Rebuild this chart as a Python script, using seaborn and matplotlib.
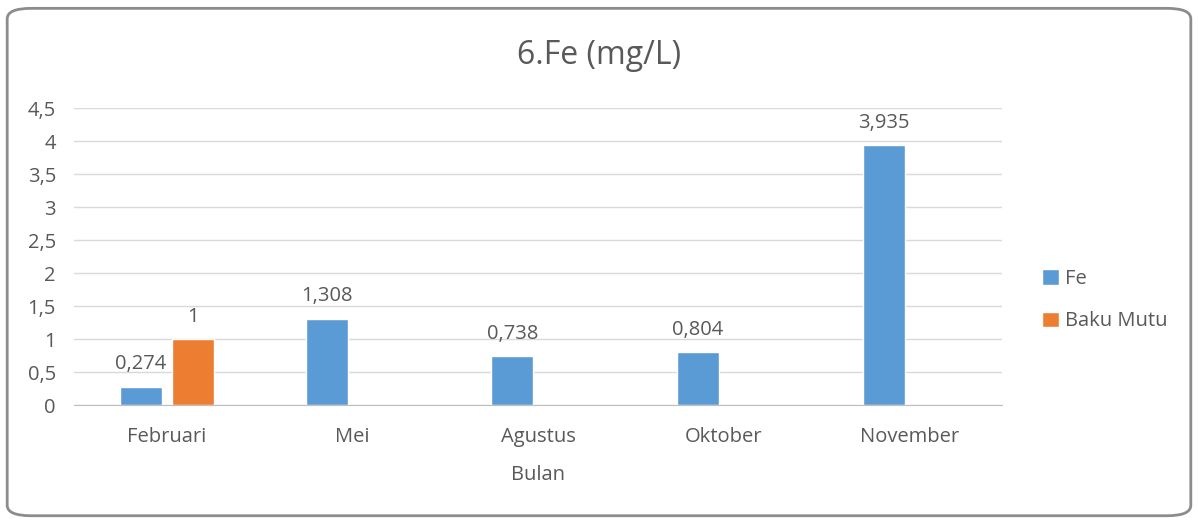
import pandas as pd
import matplotlib.pyplot as plt
import seaborn as sns
from matplotlib.patches import FancyBboxPatch
from matplotlib.ticker import FuncFormatter, FixedLocator

# Data
bulan = ['Februari', 'Mei', 'Agustus', 'Oktober', 'November']
fe = [0.274, 1.308, 0.738, 0.804, 3.935]
baku_mutu_bulan = ['Februari']
baku_mutu = [1]

df = pd.concat([
    pd.DataFrame({'Bulan': bulan, 'Nilai': fe, 'Seri': 'Fe'}),
    pd.DataFrame({'Bulan': baku_mutu_bulan, 'Nilai': baku_mutu, 'Seri': 'Baku Mutu'}),
], ignore_index=True)

sns.set_style('white')
plt.rcParams['font.family'] = ['Open Sans', 'DejaVu Sans']
teks = '#595959'
fs = 14.5

fig = plt.figure(figsize=(11.98, 5.22), dpi=100)
ax = fig.add_axes([0.0618, 0.224, 0.775, 0.569])

sns.barplot(data=df, x='Bulan', y='Nilai', hue='Seri', order=bulan,
            hue_order=['Fe', 'Baku Mutu'], palette=['#5B9BD5', '#ED7D31'],
            width=0.56, gap=0.19, saturation=1, ax=ax)

for c in ax.containers:
    ax.bar_label(c, fmt=lambda v: f'{v:g}'.replace('.', ','), padding=9,
                 fontsize=fs, color=teks)

ax.set_ylim(0, 4.5)
ax.set_xlim(-0.5, 4.5)
ax.set_yticks([i * 0.5 for i in range(10)])
ax.yaxis.set_major_formatter(FuncFormatter(lambda v, p: f'{v:g}'.replace('.', ',')))
ax.yaxis.grid(True, color='#D9D9D9', linewidth=1)
ax.set_axisbelow(True)
for s in ['top', 'right', 'left']:
    ax.spines[s].set_visible(False)
ax.spines['bottom'].set_color('#BFBFBF')
ax.tick_params(axis='y', length=0, labelsize=fs, labelcolor=teks, pad=13)
ax.tick_params(axis='x', which='major', length=0, labelsize=fs, labelcolor=teks, pad=16)
ax.xaxis.set_minor_locator(FixedLocator([i - 0.5 for i in range(6)]))
ax.tick_params(axis='x', which='minor', length=6, color='#BFBFBF', direction='out')

ax.set_xlabel('Bulan', fontsize=fs, color=teks, labelpad=13)
ax.set_ylabel('')
fig.suptitle('6.Fe (mg/L)', x=0.5, y=1 - 55 / 522, va='center',
             fontsize=23, color=teks)

h, l = ax.get_legend_handles_labels()
ax.legend(h, l, loc='center left', bbox_to_anchor=(0.855, 0.425),
          bbox_transform=fig.transFigure, frameon=False, fontsize=fs,
          labelcolor=teks, handlelength=0.8, handleheight=0.8,
          handletextpad=0.3, labelspacing=1.1)

# rounded border
fig.patches.append(FancyBboxPatch((0.006, 0.012), 0.988, 0.972,
                                  boxstyle='round,pad=0,rounding_size=0.02',
                                  transform=fig.transFigure, fill=False,
                                  edgecolor='#8C8C8C', linewidth=2))

plt.savefig('out.png', dpi=100)
